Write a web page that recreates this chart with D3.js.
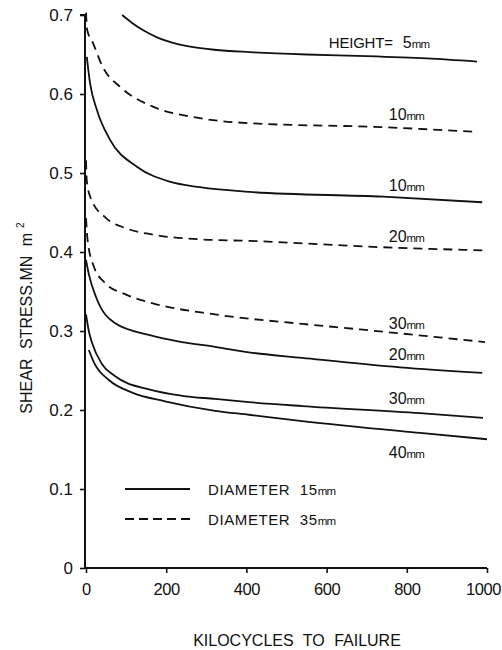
<!DOCTYPE html>
<html>
<head>
<meta charset="utf-8">
<script src="https://cdn.jsdelivr.net/npm/d3@7"></script>
<style>
  html, body { margin: 0; padding: 0; background: #fff; }
  svg { display: block; }
  text { font-family: "Liberation Sans", Arial, sans-serif; fill: #111; }
</style>
</head>
<body>
<svg id="chart" width="502" height="650"></svg>
<script>
// Shear stress (MN m^-2) against kilocycles to failure, by specimen height and diameter.
const xTicks = [0, 200, 400, 600, 800, 1000];
const yTicks = [0, 0.1, 0.2, 0.3, 0.4, 0.5, 0.6, 0.7];

// [kilocycles, stress] pairs for each curve
const h5_d15 = [[90,0.700],[115,0.690],[145,0.680],[180,0.671],[215,0.665],[260,0.660],[320,0.656],[409,0.653],[550,0.650],[700,0.648],[850,0.645],[975,0.641]];
const h10_d35 = [[0,0.703],[3,0.681],[17,0.665],[42,0.634],[85,0.609],[167,0.584],[277,0.570],[409,0.563],[741,0.558],[975,0.552]];
const h10_d15 = [[2,0.647],[10,0.614],[27,0.580],[60,0.542],[127,0.508],[209,0.489],[284,0.482],[409,0.476],[741,0.470],[988,0.463]];
const h20_d35 = [[0,0.516],[2,0.490],[12,0.468],[50,0.443],[100,0.430],[167,0.422],[284,0.416],[409,0.414],[741,0.406],[1000,0.402]];
const h30_d35 = [[0,0.443],[4,0.415],[20,0.381],[45,0.362],[100,0.346],[167,0.335],[322,0.321],[539,0.309],[683,0.302],[995,0.286]];
const h20_d15 = [[0,0.390],[7,0.372],[25,0.343],[72,0.310],[157,0.295],[239,0.286],[322,0.280],[406,0.273],[539,0.266],[783,0.254],[988,0.247]];
const h30_d15 = [[0,0.321],[7,0.300],[15,0.285],[40,0.258],[72,0.243],[157,0.226],[239,0.218],[322,0.214],[406,0.210],[539,0.205],[833,0.196],[990,0.190]];
const h40_d15 = [[7,0.276],[22,0.258],[57,0.238],[115,0.222],[197,0.211],[322,0.199],[406,0.194],[539,0.186],[833,0.171],[1000,0.163]];

const seriesList  = [h5_d15, h10_d35, h10_d15, h20_d35, h30_d35, h20_d15, h30_d15, h40_d15];
const seriesDash  = [false, true, false, true, true, false, false, false];
const seriesLabel = ["5", "10", "10", "20", "30", "20", "30", "40"];

const legendLabels = ["DIAMETER  15", "DIAMETER  35"];
const legendDash = [false, true];

const svg = d3.select("#chart");

const x = d3.scaleLinear().domain([0, 1000]).range([86, 487]);
const y = d3.scaleLinear().domain([0, 0.7]).range([568, 15]);

const DASH = "9,6";

// axes
const yAxis = svg.append("g")
  .attr("transform", `translate(${x(0) - 1},0)`)
  .call(d3.axisLeft(y).tickValues(yTicks).tickSize(5).tickPadding(7)
    .tickFormat(d => d === 0 ? "0" : d.toFixed(1)));
const xAxis = svg.append("g")
  .attr("transform", `translate(0,${y(0)})`)
  .call(d3.axisBottom(x).tickValues(xTicks).tickSize(5).tickPadding(10)
    .tickFormat(d3.format("d")));

[xAxis, yAxis].forEach(g => {
  g.select(".domain").attr("stroke", "#111").attr("stroke-width", 2);
  g.selectAll(".tick line").attr("stroke", "#111").attr("stroke-width", 1.6);
  g.selectAll(".tick text")
    .attr("font-family", "Liberation Sans, Arial, sans-serif")
    .attr("font-size", 17).attr("fill", "#222");
});
xAxis.selectAll(".tick text")
  .attr("font-size", 16.5)
  .attr("letter-spacing", -0.4)
  .attr("dx", d => d === 1000 ? -4 : 0);
yAxis.select(".domain").attr("d", `M-5,${y(0.7)}H0V${y(0)}`);
xAxis.select(".domain").attr("d", `M0,0H${x(1000) - x(0) + 1}`).attr("transform", `translate(${x(0) - 1},0)`);

// curves
const line = d3.line()
  .x(d => x(d[0]))
  .y(d => y(d[1]))
  .curve(d3.curveMonotoneX);

svg.append("g").selectAll("path")
  .data(seriesList)
  .join("path")
  .attr("d", line)
  .attr("fill", "none")
  .attr("stroke", "#111")
  .attr("stroke-width", 1.8)
  .attr("stroke-linecap", "butt")
  .attr("stroke-dasharray", (d, i) => seriesDash[i] ? DASH : null);

// value of a curve at a given kilocycle count
function valueAt(s, k) {
  for (let i = 1; i < s.length; i++) {
    if (s[i][0] >= k) {
      const t = (k - s[i - 1][0]) / (s[i][0] - s[i - 1][0]);
      return s[i - 1][1] + t * (s[i][1] - s[i - 1][1]);
    }
  }
  return s[s.length - 1][1];
}

// curve labels, set just above each curve (the 40mm one sits below)
const labelK = 755;
const labelShift = [-9, -7, -6, -5, -3, -6, -7, 28];
const labels = svg.append("g");
seriesList.forEach((s, i) => {
  const t = labels.append("text")
    .attr("x", x(labelK))
    .attr("y", y(valueAt(s, labelK)) + labelShift[i])
    .attr("font-size", 16);
  if (i === 0) {
    t.attr("x", x(labelK) - 60);
    t.append("tspan").attr("font-size", 15).attr("letter-spacing", -0.2).text("HEIGHT=");
    t.append("tspan").attr("dx", 10).text(seriesLabel[i]);
  } else {
    t.append("tspan").text(seriesLabel[i]);
  }
  t.append("tspan").attr("font-size", 11.5).attr("letter-spacing", -0.8).text("mm");
});

// legend
const legend = svg.append("g");
legendLabels.forEach((lab, i) => {
  const ly = y(0.1) + i * 30;
  legend.append("line")
    .attr("x1", 125).attr("x2", 190)
    .attr("y1", ly).attr("y2", ly)
    .attr("stroke", "#111").attr("stroke-width", 1.8)
    .attr("stroke-dasharray", legendDash[i] ? "9,5" : null);
  const t = legend.append("text")
    .attr("x", 208).attr("y", ly + 6)
    .attr("font-size", 15).attr("letter-spacing", 0.6)
    .attr("xml:space", "preserve");
  t.append("tspan").text(lab);
  t.append("tspan").attr("font-size", 11.5).attr("letter-spacing", -0.8).text("mm");
});

// axis titles
const yTitle = svg.append("text")
  .attr("transform", `translate(32,318) rotate(-90)`)
  .attr("text-anchor", "middle")
  .attr("font-size", 16)
  .attr("word-spacing", 5);
yTitle.append("tspan").text("SHEAR  STRESS.MN m");
yTitle.append("tspan").attr("font-size", 10).attr("dx", 5).attr("dy", -8).text("2");

svg.append("text")
  .attr("x", 297).attr("y", 646)
  .attr("text-anchor", "middle")
  .attr("font-size", 16)
  .attr("word-spacing", 5)
  .text("KILOCYCLES TO FAILURE");
</script>
</body>
</html>
